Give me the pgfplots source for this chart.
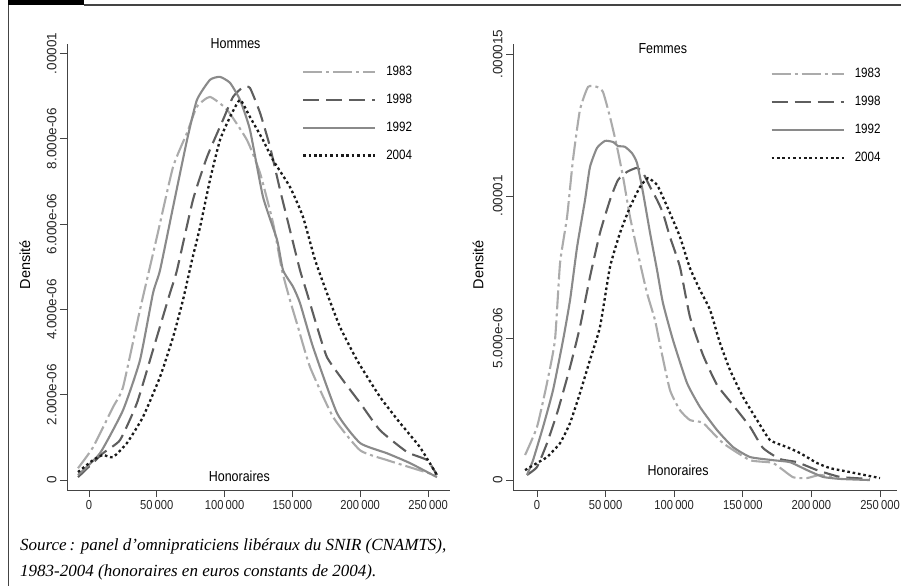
\documentclass[border=0pt]{standalone}
\usepackage{pgfplots}
\pgfplotsset{compat=1.18}
\usepackage{pgfplotstable}
\usepackage{fontspec}
\setmainfont{Liberation Sans}
\newfontfamily\narrow{Liberation Sans}[FakeStretch=0.86]
\newfontfamily\capfont{Liberation Serif}

\definecolor{c83}{HTML}{ABABAB}
\definecolor{c92}{HTML}{8A8A8A}
\definecolor{c98}{HTML}{5E5E5E}
\definecolor{c04}{HTML}{1A1A1A}
\definecolor{axgray}{HTML}{444444}

% Hommes
\pgfplotstableread{
x y
-8100 0.28e-6
2950 0.77e-6
17700 1.71e-6
25100 2.18e-6
37600 3.99e-6
50100 5.70e-6
62000 7.34e-6
72300 8.14e-6
79600 8.75e-6
89200 8.98e-6
101800 8.68e-6
116500 7.97e-6
126100 7.20e-6
135700 6.03e-6
142300 4.92e-6
148200 4.22e-6
154100 3.59e-6
163000 2.65e-6
180000 1.48e-6
199900 0.70e-6
219800 0.47e-6
238900 0.28e-6
255200 0.12e-6
}\hA
\pgfplotstableread{
x y
-8100 0.07e-6
10300 0.63e-6
22900 0.94e-6
35400 1.81e-6
47200 3.05e-6
59700 4.38e-6
64900 4.92e-6
76700 6.57e-6
87000 7.57e-6
98800 8.44e-6
106200 8.98e-6
113600 9.21e-6
118700 9.19e-6
126100 8.61e-6
133500 7.81e-6
140900 6.80e-6
148200 5.86e-6
155600 4.92e-6
160800 4.38e-6
168200 3.59e-6
175500 2.88e-6
187300 2.34e-6
199900 1.81e-6
214600 1.17e-6
234500 0.66e-6
249300 0.47e-6
256600 0.12e-6
}\hB
\pgfplotstableread{
x y
-8100 0.12e-6
8100 0.63e-6
25100 1.64e-6
37600 2.81e-6
47200 4.38e-6
52400 4.92e-6
62000 6.40e-6
72300 7.97e-6
79600 8.91e-6
89200 9.38e-6
96600 9.45e-6
104000 9.31e-6
111400 8.91e-6
118700 8.21e-6
128300 6.64e-6
138700 5.63e-6
143100 4.92e-6
150500 4.53e-6
155600 4.15e-6
165200 3.12e-6
182900 1.57e-6
199900 0.87e-6
219800 0.63e-6
236700 0.40e-6
256600 0.07e-6
}\hC
\pgfplotstableread{
x y
-8100 0.19e-6
2950 0.47e-6
10300 0.59e-6
17700 0.54e-6
28000 0.87e-6
39800 1.48e-6
52400 2.42e-6
62000 3.35e-6
69300 4.22e-6
76000 5.16e-6
81900 5.93e-6
89200 7.03e-6
96600 7.97e-6
104000 8.51e-6
111400 8.91e-6
118700 8.51e-6
128300 7.97e-6
135700 7.50e-6
148200 6.87e-6
157800 6.17e-6
166700 5.16e-6
175500 4.38e-6
185100 3.59e-6
197700 2.81e-6
214600 1.95e-6
229400 1.34e-6
244100 0.77e-6
256600 0.12e-6
}\hD

% Femmes
\pgfplotstableread{
x y
-8700 0.88e-6
0 1.87e-6
7300 3.42e-6
13100 4.93e-6
16800 7.64e-6
21900 9.26e-6
26200 11.27e-6
31300 13.03e-6
37200 13.84e-6
43700 13.84e-6
48100 13.66e-6
53200 12.78e-6
58300 11.73e-6
62700 10.67e-6
67800 9.26e-6
75100 7.64e-6
80200 6.58e-6
86000 5.63e-6
89700 4.75e-6
96900 3.17e-6
104200 2.46e-6
111500 2.11e-6
121000 2.01e-6
135600 1.30e-6
155300 0.70e-6
172000 0.60e-6
186600 0.10e-6
196800 0.07e-6
206300 0.18e-6
218700 0.07e-6
}\fA
\pgfplotstableread{
x y
-7300 0.18e-6
0 0.46e-6
7300 1.30e-6
15300 2.46e-6
24100 3.98e-6
31300 5.39e-6
38600 7.15e-6
45900 8.70e-6
53200 9.86e-6
59000 10.56e-6
65600 10.85e-6
72900 10.99e-6
77300 10.81e-6
82400 10.32e-6
87500 9.86e-6
91800 9.40e-6
96900 8.56e-6
104200 7.50e-6
111500 5.74e-6
121000 4.40e-6
131200 3.35e-6
142900 2.64e-6
155300 1.87e-6
164700 1.13e-6
177100 0.74e-6
189500 0.63e-6
204100 0.35e-6
220900 0.11e-6
242700 0.04e-6
}\fB
\pgfplotstableread{
x y
-7300 0.18e-6
-2900 0.70e-6
4400 1.87e-6
11700 3.17e-6
19000 4.93e-6
24100 6.34e-6
29200 8.20e-6
35000 9.86e-6
38600 11.02e-6
43700 11.69e-6
49600 11.94e-6
55400 11.90e-6
59000 11.76e-6
64100 11.73e-6
69200 11.51e-6
72900 11.16e-6
77300 10.11e-6
82400 8.70e-6
87500 7.39e-6
91800 6.23e-6
99100 4.93e-6
109300 3.42e-6
118800 2.57e-6
131200 1.76e-6
142900 1.16e-6
155300 0.81e-6
172000 0.70e-6
184400 0.63e-6
196800 0.35e-6
208500 0.11e-6
220900 0.04e-6
242700 0.0
}\fC
\pgfplotstableread{
x y
-8700 0.35e-6
0 0.60e-6
7300 0.81e-6
16800 1.30e-6
24100 2.01e-6
31300 3.06e-6
38600 4.23e-6
45900 5.39e-6
53200 7.50e-6
60500 8.70e-6
67800 9.61e-6
75100 10.32e-6
80900 10.63e-6
87500 10.39e-6
91800 9.96e-6
96900 9.40e-6
104200 8.56e-6
111500 7.46e-6
118800 6.69e-6
126100 5.99e-6
133400 4.82e-6
140700 3.87e-6
150200 2.92e-6
160400 2.11e-6
169800 1.41e-6
182200 1.16e-6
191700 0.95e-6
204100 0.60e-6
213600 0.42e-6
228100 0.28e-6
250000 0.07e-6
}\fD

\pgfplotsset{
  dens/.style={
    scale only axis,
    width=383pt, height=446pt,
    axis x line=bottom, axis y line=left,
    axis line style={axgray, line width=1pt, -},
    tick align=outside,
    major tick length=7pt,
    tick style={axgray, line width=0.8pt},
    xtick={0,50000,100000,150000,200000,250000},
    xticklabels={0,50\,000,100\,000,150\,000,200\,000,250\,000},
    ticklabel style={font=\narrow\fontsize{13}{13}\selectfont, text=black!85},
    yticklabel style={rotate=90, anchor=south, font=\fontsize{13.5}{13.5}\selectfont},
    scaled ticks=false,
    clip=false,
    legend cell align=left,
    legend style={draw=none, fill=none, font=\narrow\fontsize{13.5}{13.5}\selectfont,
      row sep=13pt, anchor=north west, inner sep=0pt},
    legend image code/.code={\draw[##1] (0pt,0pt) -- (72pt,0pt); \path (80pt,0pt);},
    label style={font=\fontsize{14.5}{14.5}\selectfont},
    every axis plot/.append style={smooth, tension=0.3, line width=2.1pt},
  },
  s83/.style={c83, dash pattern=on 19pt off 4pt on 3pt off 4pt},
  s98/.style={c98, dash pattern=on 16pt off 7pt},
  s92/.style={c92},
  s04/.style={c04, line width=2.3pt, dash pattern=on 2.6pt off 2.8pt},
}

\begin{document}
\begin{tikzpicture}
\path[use as bounding box] (0,0) rectangle (901pt,586pt);
% frame of the figure
\fill[black] (8pt,581pt) rectangle (84pt,586pt);
\draw[axgray, line width=1.3pt] (84pt,581pt) -- (901pt,581pt);
\draw[axgray, line width=1.3pt] (8.5pt,581pt) -- (8.5pt,0pt);

\begin{axis}[dens,
  at={(67pt,96pt)}, anchor=south west,
  xmin=-16200, xmax=266200,
  ymin=-0.23e-6, ymax=10.22e-6,
  ytick={0,2e-6,4e-6,6e-6,8e-6,1e-5},
  yticklabels={0,2.000e-06,4.000e-06,6.000e-06,8.000e-06,.00001},
  ylabel={Densité},
  ylabel style={at={(axis description cs:-0.11,0.505)}, anchor=center},
  legend style={at={(axis description cs:0.613,0.955)}},
]
\addplot[s83] table {\hA};
\addplot[s98] table {\hB};
\addplot[s92] table {\hC};
\addplot[s04] table {\hD};
\legend{1983,1998,1992,2004}
\node[font=\narrow\fontsize{14.5}{14.5}\selectfont] at (axis description cs:0.44,1.0) {Hommes};
\node[font=\narrow\fontsize{14.5}{14.5}\selectfont] at (axis description cs:0.45,0.03) {Honoraires};
\end{axis}

\begin{axis}[dens,
  at={(513pt,96pt)}, anchor=south west, width=384pt,
  xmin=-17500, xmax=262400,
  ymin=-0.35e-6, ymax=15.35e-6,
  ytick={0,5e-6,1e-5,1.5e-5},
  yticklabels={0,5.000e-06,.00001,.000015},
  ylabel={Densité},
  ylabel style={at={(axis description cs:-0.091,0.505)}, anchor=center},
  legend style={at={(axis description cs:0.67,0.95)}},
]
\addplot[s83] table {\fA};
\addplot[s98] table {\fB};
\addplot[s92] table {\fC};
\addplot[s04] table {\fD};
\legend{1983,1998,1992,2004}
\node[font=\narrow\fontsize{14.5}{14.5}\selectfont] at (axis description cs:0.39,0.99) {Femmes};
\node[font=\narrow\fontsize{14.5}{14.5}\selectfont] at (axis description cs:0.43,0.045) {Honoraires};
\end{axis}

\node[anchor=base west, font=\capfont\itshape\fontsize{17}{17}\selectfont, inner sep=0pt] at (20pt,36pt)
  {Source\,: panel d’omnipraticiens libéraux du SNIR (CNAMTS),};
\node[anchor=base west, font=\capfont\itshape\fontsize{17}{17}\selectfont, inner sep=0pt] at (20pt,10pt)
  {1983-2004 (honoraires en euros constants de 2004).};
\end{tikzpicture}
\end{document}
